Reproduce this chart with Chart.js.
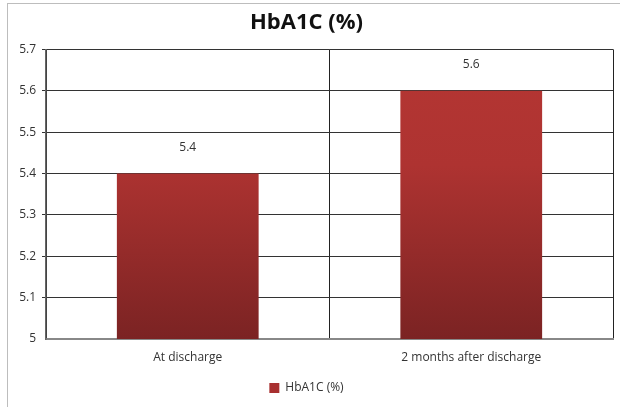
<!DOCTYPE html>
<html>
<head>
<meta charset="utf-8">
<script src="https://cdn.jsdelivr.net/npm/chart.js@4"></script>
<style>
  body { margin: 0; background: #fff; }
  #wrap { position: relative; width: 620px; height: 407px; }
  #frame { position: absolute; left: 7px; top: 3px; right: 0; bottom: 0; border-left: 1px solid #bdbdbd; border-top: 1px solid #bdbdbd; pointer-events: none; }
</style>
</head>
<body>
<div id="wrap">
  <canvas id="chart" width="620" height="407"></canvas>
  <div id="frame"></div>
</div>
<script>
// valores del gráfico
const categories = ['At discharge', '2 months after discharge'];
const hba1cValues = [5.4, 5.6];
const seriesName = 'HbA1C (%)';
const yMin = 5, yMax = 5.7, yStep = 0.1;

const fontFamily = '"Open Sans", "Liberation Sans", sans-serif';

// etiquetas de valor encima de cada barra
const valueLabels = {
    id: 'valueLabels',
    afterDatasetsDraw(chart) {
        const ctx = chart.ctx;
        const meta = chart.getDatasetMeta(0);
        ctx.save();
        ctx.font = '12px ' + fontFamily;
        ctx.fillStyle = '#333';
        ctx.textAlign = 'center';
        ctx.textBaseline = 'middle';
        meta.data.forEach((bar, i) => {
            ctx.fillText(hba1cValues[i].toFixed(1), bar.x, bar.y - 26);
        });
        ctx.restore();
    }
};

function barGradient(context) {
    const area = context.chart.chartArea;
    if (!area) return '#a83030';
    const g = context.chart.ctx.createLinearGradient(0, area.top, 0, area.bottom);
    g.addColorStop(0, '#b53633');
    g.addColorStop(0.4, '#ae3331');
    g.addColorStop(1, '#7b2323');
    return g;
}

const ctx = document.getElementById('chart').getContext('2d');
new Chart(ctx, {
    type: 'bar',
    data: {
        labels: categories,
        datasets: [{
            label: seriesName,
            data: hba1cValues,
            backgroundColor: barGradient,
            borderWidth: 0,
            categoryPercentage: 1,
            barPercentage: 0.5
        }]
    },
    options: {
        responsive: false,
        animation: false,
        layout: { padding: { top: 7, right: 7, left: 0, bottom: 3 } },
        plugins: {
            title: {
                display: true,
                text: seriesName,
                color: '#111',
                font: { family: fontFamily, size: 22, weight: 'bold' },
                padding: { top: 3, bottom: 13 }
            },
            legend: {
                position: 'bottom',
                labels: {
                    color: '#333',
                    font: { family: fontFamily, size: 12 },
                    boxWidth: 10,
                    boxHeight: 10,
                    padding: 18,
                    generateLabels: () => [{
                        text: seriesName,
                        fillStyle: '#a83030',
                        strokeStyle: '#a83030',
                        lineWidth: 0,
                        fontColor: '#333',
                        datasetIndex: 0
                    }]
                }
            },
            tooltip: { enabled: false }
        },
        scales: {
            x: {
                offset: true,
                afterFit: (scale) => { scale.height = 25; },
                grid: {
                    offset: true,
                    drawTicks: false,
                    color: (c) => c.index === 2 ? '#e6e6e6' : '#222',
                    lineWidth: 1
                },
                border: { color: '#888', width: 2 },
                ticks: {
                    color: '#333',
                    padding: 11,
                    font: { family: fontFamily, size: 12 }
                }
            },
            y: {
                min: yMin,
                max: yMax,
                afterFit: (scale) => { scale.width = 46; },
                grid: {
                    color: (c) => c.index === 0 ? 'rgba(0,0,0,0)' : '#333',
                    drawTicks: true,
                    tickLength: 4,
                    lineWidth: 1
                },
                border: { color: '#666', width: 1.5 },
                ticks: {
                    stepSize: yStep,
                    color: '#333',
                    padding: 6,
                    font: { family: fontFamily, size: 12 },
                    callback: (v) => String(Number(Number(v).toFixed(1)))
                }
            }
        }
    },
    plugins: [valueLabels]
});
</script>
</body>
</html>
